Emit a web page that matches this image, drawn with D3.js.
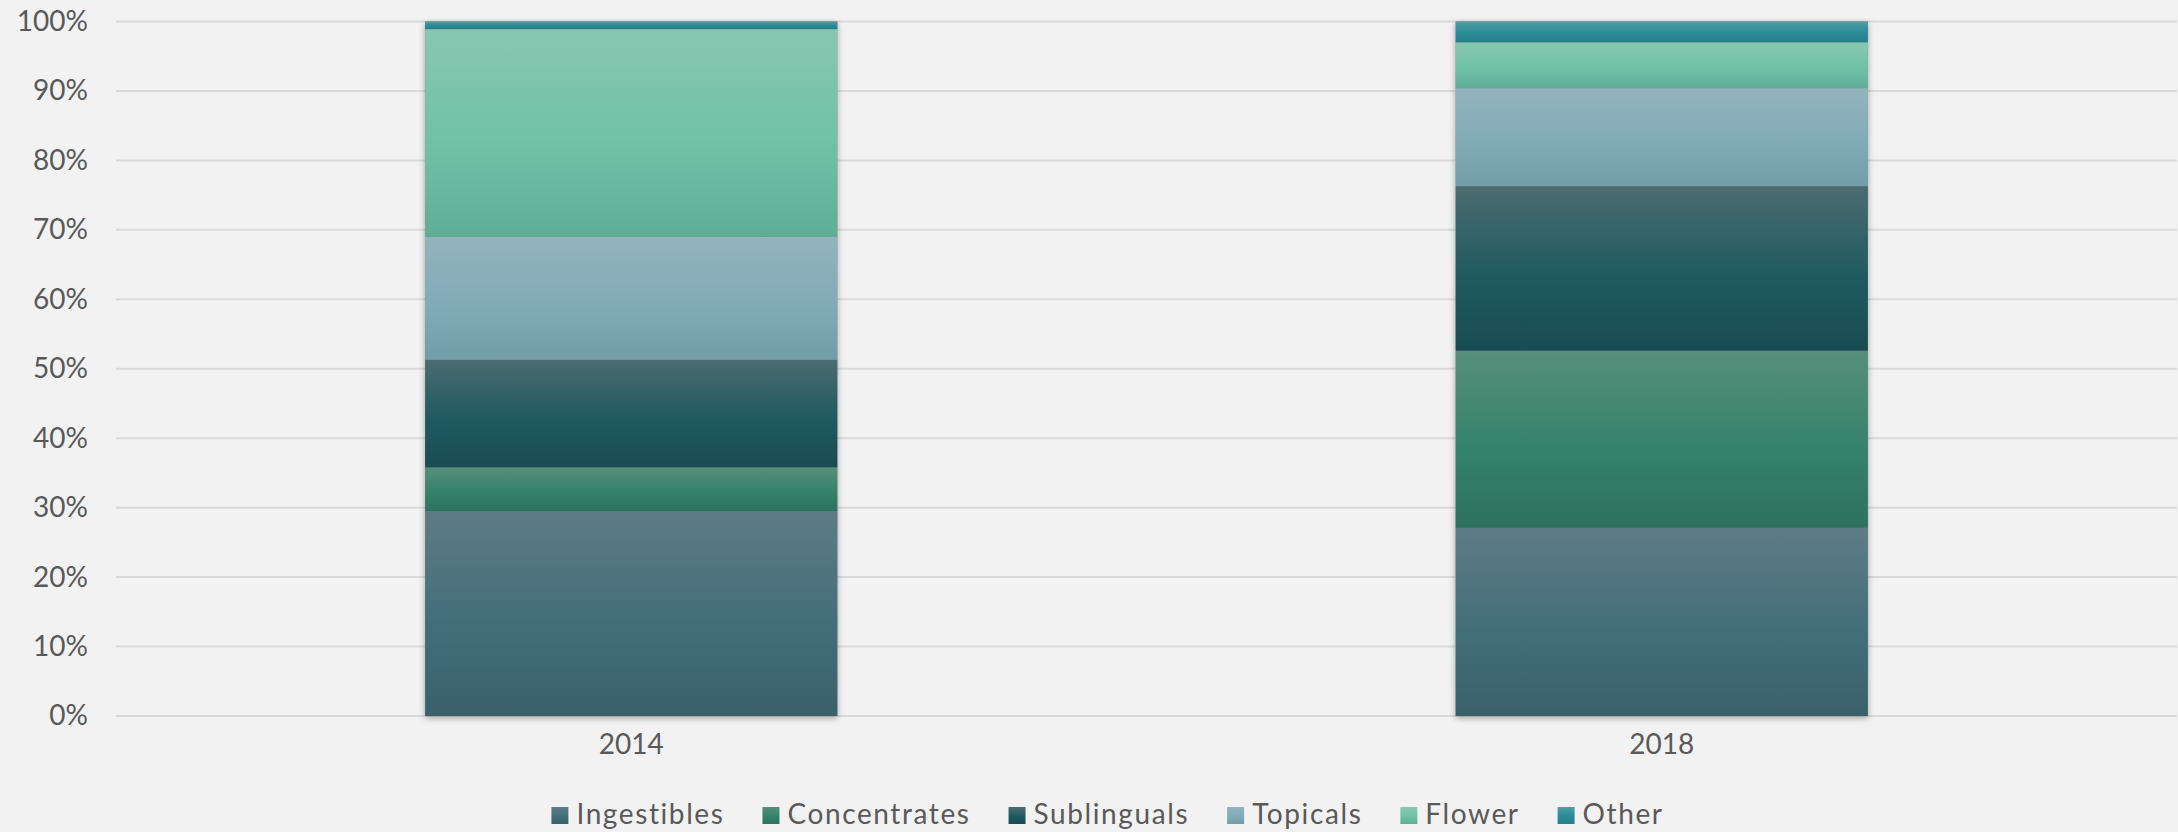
<!DOCTYPE html>
<html>
<head>
<meta charset="utf-8">
<script src="https://cdn.jsdelivr.net/npm/d3@7"></script>
<style>
  html, body { margin: 0; padding: 0; background: #f2f2f2; }
  svg { display: block; }
  text { font-family: Lato, "Open Sans", sans-serif; fill: #595959; }
</style>
</head>
<body>
<svg id="chart" width="2178" height="832"></svg>
<script>
const categories = ["2014", "2018"];
const seriesNames = ["Ingestibles", "Concentrates", "Sublinguals", "Topicals", "Flower", "Other"];
const ingestibles  = [29.5, 27.1];
const concentrates = [6.3, 25.5];
const sublinguals  = [15.5, 23.7];
const topicals     = [17.7, 14.1];
const flower       = [29.9, 6.6];
const other        = [1.1, 3.0];
const yTicks = [0, 10, 20, 30, 40, 50, 60, 70, 80, 90, 100];

const seriesValues = [ingestibles, concentrates, sublinguals, topicals, flower, other];
// gradient stops: top, middle, bottom
const gradients = [
  ["#5f7c85", "#426e7a", "#3a616b"],
  ["#578f7b", "#35826a", "#2d725c"],
  ["#4b6c70", "#1f5a60", "#184c52"],
  ["#93b4bd", "#82abb8", "#729da8"],
  ["#88c7b1", "#70c2a7", "#5eae95"],
  ["#529ca5", "#2a8b95", "#26818c"]
];

const W = 2178, H = 832;
const margin = {left: 116, right: 1, top: 21.5, bottom: 116};
const svg = d3.select("#chart");

const defs = svg.append("defs");
gradients.forEach((g, i) => {
  const lg = defs.append("linearGradient").attr("id", "grad" + i)
    .attr("x1", 0).attr("y1", 0).attr("x2", 0).attr("y2", 1);
  lg.append("stop").attr("offset", "0%").attr("stop-color", g[0]);
  lg.append("stop").attr("offset", "55%").attr("stop-color", g[1]);
  lg.append("stop").attr("offset", "100%").attr("stop-color", g[2]);
});
const filt = defs.append("filter").attr("id", "shadow")
  .attr("x", "-5%").attr("y", "-5%").attr("width", "110%").attr("height", "110%");
filt.append("feDropShadow").attr("dx", 0).attr("dy", 2).attr("stdDeviation", 3)
  .attr("flood-color", "#000").attr("flood-opacity", 0.35);

const x = d3.scaleBand().domain(categories)
  .range([margin.left, W - margin.right])
  .paddingInner(0.6).paddingOuter(0.3);
const y = d3.scaleLinear().domain([0, 100]).range([H - margin.bottom, margin.top]);

// gridlines
svg.append("g").selectAll("line").data(yTicks).join("line")
  .attr("x1", margin.left).attr("x2", W - margin.right)
  .attr("y1", d => y(d)).attr("y2", d => y(d))
  .attr("stroke", "#d9d9d9").attr("stroke-width", 2);

// y axis labels
const yAxis = d3.axisLeft(y).tickValues(yTicks).tickFormat(d => d + "%").tickSize(0).tickPadding(28);
const yg = svg.append("g").attr("transform", `translate(${margin.left},0)`).call(yAxis);
yg.select(".domain").remove();
yg.selectAll("text").style("font-size", "28px").style("font-family", "Lato, 'Open Sans', sans-serif").attr("fill", "#595959");

// x axis labels
const xAxis = d3.axisBottom(x).tickSize(0).tickPadding(18);
const xg = svg.append("g").attr("transform", `translate(0,${y(0)})`).call(xAxis);
xg.select(".domain").remove();
xg.selectAll("text").style("font-size", "28px").style("font-family", "Lato, 'Open Sans', sans-serif").attr("fill", "#595959");

// stacked data
const rows = categories.map((c, ci) => {
  const r = {cat: c};
  seriesNames.forEach((s, si) => r[s] = seriesValues[si][ci]);
  return r;
});
const stacked = d3.stack().keys(seriesNames)(rows);

const barsG = svg.append("g");
barsG.selectAll("rect.sh").data(rows).join("rect").attr("class", "sh")
  .attr("x", d => x(d.cat)).attr("width", x.bandwidth())
  .attr("y", d => y(d3.sum(seriesNames, s => d[s])))
  .attr("height", d => y(0) - y(d3.sum(seriesNames, s => d[s])))
  .attr("fill", "#888").attr("filter", "url(#shadow)");

stacked.forEach((layer, li) => {
  barsG.append("g").selectAll("rect").data(layer).join("rect")
    .attr("x", d => x(d.data.cat))
    .attr("width", x.bandwidth())
    .attr("y", d => y(d[1]))
    .attr("height", d => y(d[0]) - y(d[1]))
    .attr("fill", `url(#grad${li})`);
});

// legend
const legend = svg.append("g");
const items = legend.selectAll("g").data(seriesNames).join("g");
items.append("rect").attr("width", 17).attr("height", 17).attr("y", -17)
  .attr("fill", (d, i) => `url(#grad${i})`);
items.append("text").attr("x", 25).attr("y", 0).text(d => d)
  .style("font-size", "28px").style("letter-spacing", "1.6px");
let cx = 0;
const offs = [];
items.each(function() {
  offs.push(cx);
  const w = d3.select(this).select("text").node().getComputedTextLength();
  cx += 25 + w + 38;
});
const totalW = cx - 38;
const startX = 1107.5 - totalW / 2;
items.attr("transform", (d, i) => `translate(${startX + offs[i]},824)`);
</script>
</body>
</html>
